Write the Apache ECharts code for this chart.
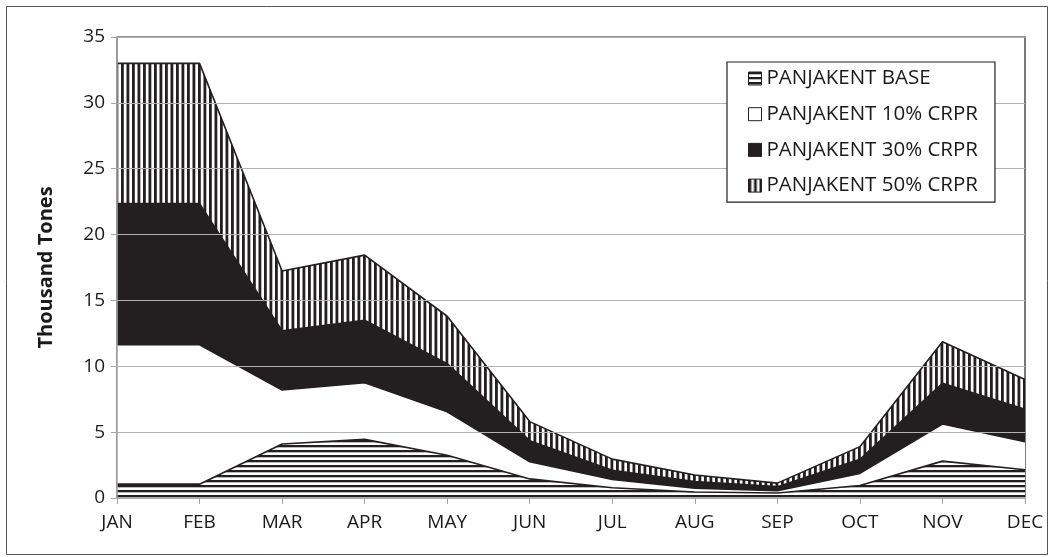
<!DOCTYPE html>
<html>
<head>
<meta charset="utf-8">
<script src="https://cdn.jsdelivr.net/npm/echarts@6/dist/echarts.min.js"></script>
<style>
  html, body { margin: 0; padding: 0; background: #ffffff; }
  #chart { width: 1050px; height: 557px; }
</style>
</head>
<body>
<div id="chart"></div>
<script>
// Monthly volumes, thousand tones, per scenario
const months = ['JAN', 'FEB', 'MAR', 'APR', 'MAY', 'JUN', 'JUL', 'AUG', 'SEP', 'OCT', 'NOV', 'DEC'];
const base   = [1.05, 1.05, 4.1, 4.45, 3.25, 1.45, 0.78, 0.45, 0.38, 0.95, 2.8, 2.15];
const crpr10 = [11.64, 11.64, 8.2, 8.75, 6.55, 2.75, 1.4, 0.75, 0.55, 1.87, 5.62, 4.28];
const crpr30 = [22.35, 22.35, 12.7, 13.5, 10.2, 4.35, 2.1, 1.24, 0.86, 2.94, 8.71, 6.73];
const crpr50 = [33.0, 33.0, 17.24, 18.44, 13.8, 5.8, 2.95, 1.75, 1.13, 3.9, 11.87, 9.0];
const seriesNames = ['PANJAKENT BASE', 'PANJAKENT 10% CRPR', 'PANJAKENT 30% CRPR', 'PANJAKENT 50% CRPR'];
const yTicks = [0, 5, 10, 15, 20, 25, 30, 35];

const INK = '#231f20';
const FONT = '"Open Sans", "Liberation Sans", sans-serif';

// Horizontal hatch fill
function hStripes() {
  const c = document.createElement('canvas');
  c.width = 4; c.height = 5;
  const g = c.getContext('2d');
  g.fillStyle = '#ffffff'; g.fillRect(0, 0, 4, 5);
  g.fillStyle = INK; g.fillRect(0, 0, 4, 2.3);
  return { image: c, repeat: 'repeat' };
}
// Vertical hatch fill
function vStripes() {
  const c = document.createElement('canvas');
  c.width = 11; c.height = 4;
  const g = c.getContext('2d');
  g.fillStyle = '#ffffff'; g.fillRect(0, 0, 11, 4);
  g.fillStyle = INK;
  g.fillRect(0, 0, 2.8, 4);
  g.fillRect(5.5, 0, 2.8, 4);
  return { image: c, repeat: 'repeat' };
}

const fills = [hStripes(), '#ffffff', INK, vStripes()];
const values = [base, crpr10, crpr30, crpr50];

const chart = echarts.init(document.getElementById('chart'), null, { renderer: 'canvas' });

const series = values.map((v, i) => ({
  name: seriesNames[i],
  type: 'line',
  data: v,
  z: 10 - i,
  symbol: 'none',
  silent: true,
  lineStyle: { color: INK, width: 1.6 },
  areaStyle: { color: fills[i], opacity: 1 },
  itemStyle: { color: INK }
}));

chart.setOption({
  animation: false,
  backgroundColor: '#ffffff',
  grid: {
    left: 117, right: 25, top: 37, bottom: 59,
    show: true, borderColor: INK, borderWidth: 1.2, backgroundColor: 'transparent'
  },
  xAxis: {
    type: 'category',
    data: months,
    boundaryGap: false,
    axisLine: { lineStyle: { color: '#a6a6a6', width: 1.5 } },
    axisTick: { show: true, length: 6, lineStyle: { color: '#a6a6a6' } },
    axisLabel: { color: '#1a1a1a', fontFamily: FONT, fontSize: 19, margin: 15 },
    splitLine: { show: false },
    z: 20
  },
  yAxis: {
    type: 'value',
    min: yTicks[0],
    max: yTicks[yTicks.length - 1],
    interval: 5,
    name: 'Thousand Tones',
    nameLocation: 'middle',
    nameGap: 61,
    nameTextStyle: { color: '#1a1a1a', fontFamily: FONT, fontSize: 20, fontWeight: 'bold' },
    axisLine: { show: true, lineStyle: { color: '#a6a6a6', width: 1.5 } },
    axisTick: { show: true, length: 6, lineStyle: { color: '#a6a6a6' } },
    axisLabel: { color: '#1a1a1a', fontFamily: FONT, fontSize: 19, margin: 12 },
    splitLine: { show: true, lineStyle: { color: '#b3b3b3', width: 1.2 } },
    z: 20
  },
  legend: {
    orient: 'vertical',
    left: 727,
    top: 62,
    padding: [6, 17, 6, 21],
    itemGap: 14.7,
    itemWidth: 13,
    itemHeight: 13,
    icon: 'rect',
    borderColor: INK,
    borderWidth: 1.2,
    backgroundColor: '#ffffff',
    textStyle: { color: '#1a1a1a', fontFamily: FONT, fontSize: 20.5, lineHeight: 20, padding: [0, 0, 0, 0] },
    data: seriesNames.map((n, i) => ({
      name: n,
      itemStyle: { color: fills[i], borderColor: INK, borderWidth: 1 }
    })),
    z: 30
  },
  graphic: [{
    type: 'rect',
    left: 4, top: 4,
    shape: { width: 1041, height: 548 },
    style: { fill: 'none', stroke: '#555555', lineWidth: 1 },
    silent: true,
    z: 100
  }],
  series: series
});
</script>
</body>
</html>
